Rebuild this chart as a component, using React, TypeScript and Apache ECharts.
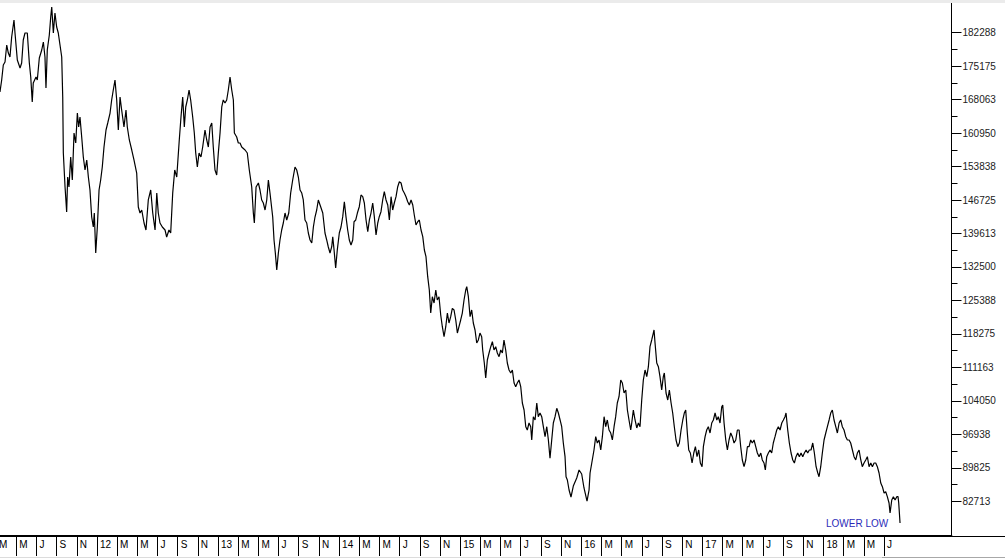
import React, { useEffect, useRef } from "react";
import * as echarts from "echarts";

// x = months since Jan 2011 (12 = Jan 2012 ...), y = price
const p2011: [number, number][] = [
  [2.39,169690],[2.56,172240],[2.72,175420],[2.89,176060],[3.06,179670],[3.22,177970],[3.38,177120],[3.55,181370],[3.78,184990],[3.88,182220],
  [4.11,176490],[4.38,174790],[4.54,175850],[4.70,180740],[4.87,182220],[5.10,182220],[5.30,175850],[5.44,172870],[5.59,167560],[5.69,171600],
  [5.96,172870],[6.09,172240],[6.29,176910],[6.53,178610],[6.69,180310],[6.85,177120],[6.95,170540],[7.08,178610],[7.28,181800],[7.42,185620],
  [7.52,187750],[7.68,182220],[7.84,186470],[8.01,183500],[8.17,182220],[8.34,179670],[8.51,177120],[8.61,168620],[8.67,156720],[8.84,149500],
  [9.00,144190],[9.10,151620],[9.23,149500],[9.40,155870],[9.56,150990],[9.73,160970],[9.90,158850],[10.06,165220],[10.19,162250],[10.32,164370],
  [10.49,160120],[10.65,155870],[10.82,153110],[10.99,155240],[11.15,151620],[11.31,148860],[11.48,143120],[11.64,141000],[11.74,143970],[11.88,135470],
];
const p2012: [number, number][] = [
  [12.04,141000],[12.21,148860],[12.37,150990],[12.53,153750],[12.70,158000],[12.90,161610],[13.07,163100],[13.30,165220],[13.46,167990],[13.62,170110],
  [13.79,172240],[13.96,167990],[14.12,161610],[14.29,168620],[14.45,165860],[14.68,162250],[14.88,165860],[15.01,162250],[15.21,159490],[15.45,157360],
  [15.67,155240],[15.94,152470],[16.10,145250],[16.27,143970],[16.44,144610],[16.67,141850],[16.86,140360],[17.09,146740],[17.33,148860],[17.53,143970],
  [17.76,140360],[17.93,148220],[18.08,143970],[18.25,141850],[18.48,141000],[18.75,140360],[18.91,138870],[19.14,140360],[19.31,139720],[19.51,148220],
  [19.71,153110],[19.91,151620],[20.16,159490],[20.33,164370],[20.50,168620],[20.66,162250],[20.80,166500],[20.96,167990],[21.13,170110],[21.29,167990],
  [21.49,164370],[21.65,160970],[21.79,156720],[21.95,153750],[22.12,156720],[22.31,155870],[22.48,158000],[22.71,161610],[22.88,159490],[23.04,158000],
  [23.21,162250],[23.38,163100],[23.53,158000],[23.70,153110],[23.87,152050],
];
const p2013: [number, number][] = [
  [24.03,156720],[24.20,160970],[24.37,166500],[24.52,167990],[24.69,167350],[24.86,167990],[25.02,170110],[25.19,172870],[25.36,170110],[25.52,167990],
  [25.62,160970],[25.85,160120],[26.01,158850],[26.18,158850],[26.35,158000],[26.68,157360],[26.90,156720],[27.10,153110],[27.34,149500],[27.50,143970],
  [27.60,141850],[27.77,149500],[28.00,150350],[28.16,148860],[28.33,146740],[28.49,146100],[28.66,144610],[28.83,146740],[28.99,150990],[29.15,148220],
  [29.42,143120],[29.55,138240],[29.68,135470],[29.82,131860],[29.98,135470],[30.14,138240],[30.31,140360],[30.47,141850],[30.64,143970],[30.81,142490],
  [31.01,143970],[31.20,148220],[31.40,150990],[31.63,153750],[31.80,153110],[31.96,151620],[32.13,148860],[32.30,148220],[32.45,146740],[32.62,142490],
  [32.79,141850],[32.95,139720],[33.12,138240],[33.29,137600],[33.45,141000],[33.61,143120],[33.78,144610],[33.94,146740],[34.18,145250],[34.38,143970],
  [34.60,139720],[34.77,138240],[34.93,136750],[35.10,135470],[35.27,136810],[35.37,138940],[35.50,136110],[35.66,132290],[35.82,136110],
];
const p2014: [number, number][] = [
  [36.02,139720],[36.19,141000],[36.36,143190],[36.52,146370],[36.68,143190],[36.85,140360],[37.01,138240],[37.18,137170],[37.35,138240],[37.48,142120],
  [37.65,142490],[37.81,143970],[38.00,145310],[38.17,147800],[38.34,147440],[38.50,146100],[38.67,142490],[38.84,140000],[39.00,142490],[39.16,143970],
  [39.33,146100],[39.49,143190],[39.66,139300],[39.83,141850],[39.98,143190],[40.15,144250],[40.32,146740],[40.48,148500],[40.65,146740],[40.82,145670],
  [40.98,142490],[41.15,147440],[41.31,144610],[41.47,146100],[41.64,147440],[41.81,149560],[41.97,150620],[42.14,150350],[42.30,148860],[42.46,148220],
  [42.63,147440],[42.80,146370],[42.96,145670],[43.13,146740],[43.30,145670],[43.45,143550],[43.62,141420],[43.79,142120],[43.95,142490],[44.12,140360],
  [44.29,138940],[44.45,136110],[44.61,134690],[44.78,130440],[44.94,127610],[45.08,122720],[45.24,126190],[45.41,124850],[45.58,127610],[45.73,125490],
  [45.90,126190],[46.07,122300],[46.23,119810],[46.40,117690],[46.57,119810],[46.73,122720],[46.89,120600],[47.06,121940],[47.22,123720],[47.39,123360],
  [47.56,121240],[47.72,118470],[47.88,119810],
];
const p2015: [number, number][] = [
  [48.05,121240],[48.21,122720],[48.38,125490],[48.55,127610],[48.65,128310],[48.81,126190],[48.98,121940],[49.14,123360],[49.30,120600],[49.47,119110],
  [49.64,116350],[49.80,116990],[49.96,118470],[50.13,117690],[50.23,114860],[50.39,112100],[50.53,108910],[50.69,112740],[50.86,114220],[51.03,115560],
  [51.19,116620],[51.35,114860],[51.52,115560],[51.68,114220],[51.85,113440],[52.02,114860],[52.18,114220],[52.34,116990],[52.51,114860],[52.67,112100],
  [52.84,110610],[53.01,109970],[53.17,110610],[53.34,107850],[53.50,107060],[53.66,107850],[53.83,108490],[54.00,107060],[54.16,103600],[54.33,102110],
  [54.50,98560],[54.65,97860],[54.82,99350],[54.99,98560],[55.09,95740],[55.25,100690],[55.42,99990],[55.59,103600],[55.74,100690],[55.91,101470],
  [56.08,100690],[56.24,98560],[56.41,96440],[56.58,98560],[56.74,95740],[56.90,91850],[57.07,95740],[57.23,99350],[57.40,100690],[57.57,102470],
  [57.73,101470],[57.90,99990],[58.06,98560],[58.22,95100],[58.39,92190],[58.49,87940],[58.62,87240],[58.79,85110],[58.98,83620],[59.21,85960],
  [59.55,87660],[59.78,89360],
];
const p2016: [number, number][] = [
  [60.04,88510],[60.27,85540],[60.57,82770],[60.77,85110],[60.87,88720],[61.04,90850],[61.26,93610],[61.43,96440],[61.59,95100],[61.76,95740],
  [61.93,93610],[62.09,96440],[62.26,100690],[62.42,98560],[62.58,99990],[62.75,97860],[62.92,97220],[63.08,95740],[63.25,98560],[63.41,100690],
  [63.57,103600],[63.74,104940],[63.91,108490],[64.07,107850],[64.24,105720],[64.41,106360],[64.57,102110],[64.73,99990],[64.90,97860],[65.00,99350],
  [65.16,102110],[65.33,99990],[65.50,98290],[65.66,99350],[65.82,98560],[65.99,104240],[66.15,108490],[66.32,110610],[66.49,109190],[66.65,111310],
  [66.81,115560],[66.98,116990],[67.14,118470],[67.21,119110],[67.31,116350],[67.48,112100],[67.64,111310],[67.80,109190],[67.97,106360],[68.13,109190],
  [68.23,109970],[68.40,105720],[68.57,104240],[68.73,106360],[68.90,103600],[69.06,101470],[69.22,98560],[69.39,95740],[69.56,94310],[69.72,95100],
  [69.89,97860],[70.06,99990],[70.21,101470],[70.35,102110],[70.51,97220],[70.65,93610],[70.81,92970],[70.98,90850],[71.15,92970],[71.31,94310],
  [71.47,92190],[71.64,93610],[71.80,90850],[71.97,90060],
];
const p2017: [number, number][] = [
  [72.10,94310],[72.27,96440],[72.43,97860],[72.59,98560],[72.76,97220],[72.93,99350],[73.09,99990],[73.26,101470],[73.43,99990],[73.58,100690],
  [73.75,99350],[73.92,102810],[74.02,103170],[74.15,99350],[74.32,95740],[74.48,93610],[74.64,95740],[74.81,97220],[74.97,96440],[75.14,95100],
  [75.31,95740],[75.47,97860],[75.64,97860],[75.80,94310],[75.96,91490],[76.13,90060],[76.30,91490],[76.46,94310],[76.63,94310],[76.79,95740],
  [76.95,95100],[77.12,95740],[77.29,94310],[77.45,92970],[77.62,92190],[77.79,92970],[77.94,91490],[78.11,90850],[78.24,89360],[78.38,92190],
  [78.54,92970],[78.71,93610],[78.87,92970],[79.03,95100],[79.20,96440],[79.37,97860],[79.53,98560],[79.70,97860],[79.87,99350],[80.03,99990],
  [80.19,100690],[80.29,101470],[80.46,97860],[80.62,95100],[80.79,92970],[80.96,91490],[81.12,90850],[81.28,92190],[81.45,92970],[81.61,92190],
  [81.78,92970],[81.95,92190],[82.11,92970],[82.28,93610],[82.44,92970],[82.60,93610],[82.77,93610],[82.94,95100],[83.10,92970],[83.27,90060],
  [83.44,88720],[83.56,87940],[83.73,90060],[83.89,92970],
];
const p2018: [number, number][] = [
  [84.06,95740],[84.23,97220],[84.39,98560],[84.56,99990],[84.72,101470],[84.88,102110],[85.05,99990],[85.22,98560],[85.38,97220],[85.55,99350],
  [85.71,99990],[85.87,98560],[86.04,97860],[86.21,96440],[86.37,95740],[86.54,95740],[86.70,95100],[86.87,93610],[87.03,92190],[87.20,91490],
  [87.36,92970],[87.53,93610],[87.70,91490],[87.85,90060],[88.02,90850],[88.19,91490],[88.35,92190],[88.52,90060],[88.69,90850],[88.85,90060],
  [89.02,90850],[89.18,90850],[89.34,90060],[89.51,88720],[89.68,86600],[89.84,85810],[90.01,84470],[90.17,84750],[90.33,83690],[90.50,82350],
  [90.60,80220],[90.77,82990],[90.93,83690],[91.10,82990],[91.27,83690],[91.39,83690],[91.46,82350],[91.59,78100],
];

const yTickValues = [
  82712.5, 89825, 96937.5, 104050, 111162.5, 118275, 125387.5, 132500,
  139612.5, 146725, 153837.5, 160950, 168062.5, 175175, 182287.5,
];
const monthLetters = ["J", "F", "M", "A", "M", "J", "J", "A", "S", "O", "N", "D"];
const monthTicks = [
  2, 4, 6, 8, 10, 12, 14, 16, 18, 20, 22, 24, 26, 28, 30, 32, 34, 36, 38, 40, 42, 44,
  46, 48, 50, 52, 54, 56, 58, 60, 62, 64, 66, 68, 70, 72, 74, 76, 78, 80, 82, 84, 86, 88, 90,
];
const annotation = "LOWER LOW";

const FONT = "'Liberation Sans', Arial, sans-serif";

export default function App() {
  const ref = useRef<HTMLDivElement>(null);
  useEffect(() => {
    if (!ref.current) return;
    const chart = echarts.init(ref.current, undefined, { renderer: "svg" });
    const data = [...p2011, ...p2012, ...p2013, ...p2014, ...p2015, ...p2016, ...p2017, ...p2018];
    const minorTicks: number[] = [];
    for (let i = 0; i < yTickValues.length - 1; i++) {
      minorTicks.push((yTickValues[i] + yTickValues[i + 1]) / 2);
    }
    const yMin = 75336.25;
    const yMax = 188598.75;
    chart.setOption({
      animation: false,
      backgroundColor: "#ffffff",
      grid: { left: -3.97, right: 53.5, top: 3, bottom: 22, containLabel: false, outerBoundsMode: "none" },
      xAxis: {
        type: "value",
        min: 2,
        max: 96.69,
        axisLine: { show: true, lineStyle: { color: "#000", width: 2 } },
        axisTick: { show: true, customValues: monthTicks, length: 20, lineStyle: { color: "#000", width: 1 } },
        axisLabel: {
          show: true,
          customValues: monthTicks,
          align: "left",
          padding: [0, 0, 0, 3],
          margin: 3,
          color: "#000",
          fontSize: 10,
          fontFamily: FONT,
          formatter: (v: number) => {
            const m = Math.round(v);
            if (m % 12 === 0) return String((2011 + m / 12) % 100);
            return monthLetters[m % 12];
          },
        },
        splitLine: { show: false },
      },
      yAxis: [
        {
          type: "value",
          position: "right",
          min: yMin,
          max: yMax,
          axisLine: { show: true, lineStyle: { color: "#000", width: 1 } },
          axisTick: { show: true, customValues: yTickValues, length: 10, lineStyle: { color: "#000" } },
          axisLabel: {
            show: true,
            customValues: yTickValues,
            margin: 11,
            color: "#222",
            fontSize: 10,
            fontFamily: FONT,
            formatter: (v: number) => String(Math.round(v)),
          },
          splitLine: { show: false },
        },
        {
          type: "value",
          position: "right",
          offset: 0,
          min: yMin,
          max: yMax,
          axisLine: { show: false },
          axisTick: { show: true, customValues: minorTicks, length: 6, lineStyle: { color: "#000" } },
          axisLabel: { show: false },
          splitLine: { show: false },
        },
      ],
      series: [
        {
          type: "line",
          data,
          showSymbol: false,
          symbol: "none",
          silent: true,
          lineStyle: { color: "#000", width: 1.2 },
        },
      ],
      graphic: [
        { type: "rect", shape: { x: 0, y: 0, width: 1005, height: 3 }, style: { fill: "#ebebeb" }, z: 100 },
        { type: "line", shape: { x1: 951.5, y1: 536.5, x2: 1005, y2: 536.5 }, style: { stroke: "#000", lineWidth: 1 } },
        { type: "line", shape: { x1: 0, y1: 557.5, x2: 1005, y2: 557.5 }, style: { stroke: "#dcdcdc", lineWidth: 1 } },
        { type: "line", shape: { x1: 882, y1: 557.5, x2: 1005, y2: 557.5 }, style: { stroke: "#a8a8a8", lineWidth: 1 } },
        {
          type: "text",
          x: 826,
          y: 523,
          style: { text: annotation, fill: "#2b2bb8", fontSize: 10, fontFamily: FONT, verticalAlign: "middle" },
        },
      ],
    });
    return () => chart.dispose();
  }, []);
  return <div ref={ref} style={{ position: "fixed", left: 0, top: 0, width: 1005, height: 558 }} />;
}
